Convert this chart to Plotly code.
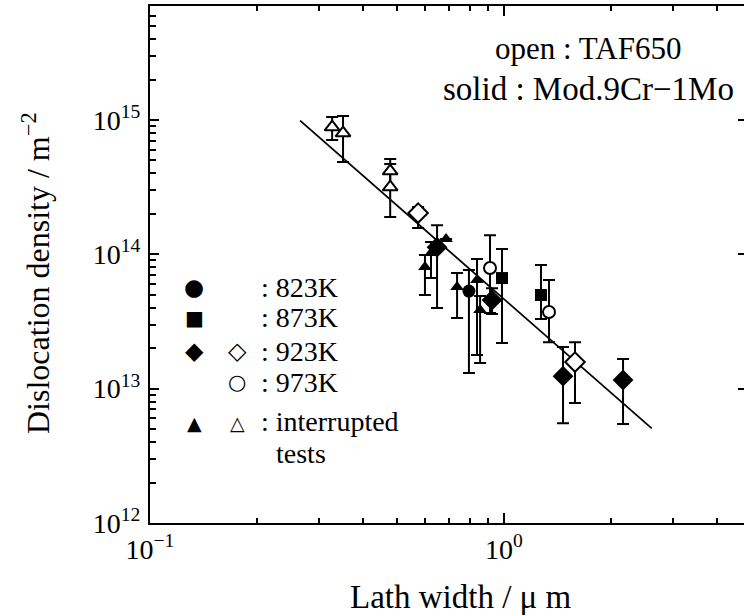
import plotly.graph_objects as go

# ---------------- data ----------------
# Solid symbols : Mod.9Cr-1Mo ; open symbols : TAF650
# each series: lath width (um), dislocation density (m^-2), error-bar top, error-bar bottom
s823_x = [0.796]
s823_y = [5.33e13]
s823_hi = [7.64e13]
s823_lo = [1.31e13]

s873_x = [0.987, 1.272]
s873_y = [6.66e13, 4.98e13]
s873_hi = [1.095e14, 8.32e13]
s873_lo = [2.19e13, 3.30e13]

s923_x = [0.925, 1.468, 2.169, 0.647]
s923_y = [4.57e13, 1.24e13, 1.16e13, 1.13e14]
s923_hi = [5.6e13, 2.04e13, 1.66e13, 1.13e14]
s923_lo = [3.6e13, 5.54e12, 5.45e12, 1.13e14]

o923_x = [0.572, 1.587]
o923_y = [2.03e14, 1.578e13]
o923_hi = [2.25e14, 2.22e13]
o923_lo = [1.57e14, 7.81e12]

o973_x = [0.913, 1.340]
o973_y = [7.91e13, 3.72e13]
o973_hi = [1.39e14, 6.44e13]
o973_lo = [3.66e13, 2.22e13]

sint_x = [0.598, 0.622, 0.647, 0.686, 0.737, 0.839, 0.856]
sint_y = [8.04e13, 1.023e14, 1.193e14, 1.30e14, 5.71e13, 6.44e13, 3.85e13]
sint_hi = [9.88e13, 1.235e14, 1.65e14, 1.30e14, 7.26e13, 9.23e13, 4.89e13]
sint_lo = [4.98e13, 6.66e13, 3.98e13, 1.30e14, 3.36e13, 1.78e13, 1.55e13]

oint_x = [0.327, 0.351, 0.477, 0.477]
oint_y = [8.87e14, 8.00e14, 4.17e14, 3.17e14]
oint_hi = [1.052e15, 1.071e15, 5.12e14, 4.70e14]
oint_lo = [7.10e14, 4.87e14, 3.01e14, 1.90e14]

fit_x = [0.2655, 2.614]
fit_y = [9.9e14, 5.06e12]

x_tickvals = [0.1, 1]
x_ticktext = ["10<sup>−1</sup>", "10<sup>0</sup>"]
x_minor = [0.2, 0.3, 0.4, 0.5, 0.6, 0.7, 0.8, 0.9, 2, 3, 4]
y_tickvals = [1e12, 1e13, 1e14, 1e15]
y_ticktext = ["10<sup>12</sup>", "10<sup>13</sup>", "10<sup>14</sup>", "10<sup>15</sup>"]
y_minor = [m * 10 ** e for e in (12, 13, 14, 15) for m in range(2, 10)]

legend_rows = [
    ("●", "", ": 823K"),
    ("■", "", ": 873K"),
    ("◆", "◇", ": 923K"),
    ("", "○", ": 973K"),
    ("▲", "△", ": interrupted"),
]

# ---------------- layout geometry (pixels) ----------------
W, H = 744, 616
L, R, T, B = 150, 744, 6, 523
SERIF = "Liberation Serif, Times New Roman, serif"
SYM_STYLE = {
    "●": (23, "DejaVu Sans", False),
    "■": (20, "DejaVu Sans", False),
    "◆": (24, "DejaVu Sans", False),
    "◇": (24, "DejaVu Sans", False),
    "○": (21, "DejaVu Sans", True),
    "▲": (19, "DejaVu Sans", False),
    "△": (19, "DejaVu Sans", False),
}


def px_x(p):
    return (p - L) / (R - L)


def px_y(p):
    return (B - p) / (B - T)


fig = go.Figure()

fig.add_trace(go.Scatter(x=fit_x, y=fit_y, mode="lines",
                         line=dict(color="black", width=1.8), hoverinfo="skip"))


def add_series(xs, ys, hi, lo, symbol, size, filled):
    plus = [h - y for h, y in zip(hi, ys)]
    minus = [y - l for y, l in zip(ys, lo)]
    fig.add_trace(go.Scatter(
        x=xs, y=ys, mode="markers",
        marker=dict(symbol=symbol, size=size,
                    color="black" if filled else "white",
                    line=dict(color="black", width=0 if filled else 2)),
        error_y=dict(type="data", array=plus, arrayminus=minus,
                     color="black", thickness=2, width=6, symmetric=False),
    ))


add_series(oint_x, oint_y, oint_hi, oint_lo, "triangle-up", 13, False)
add_series(sint_x, sint_y, sint_hi, sint_lo, "triangle-up", 12, True)
add_series(s873_x, s873_y, s873_hi, s873_lo, "square", 12, True)
add_series(s823_x, s823_y, s823_hi, s823_lo, "circle", 13, True)
add_series(s923_x, s923_y, s923_hi, s923_lo, "diamond", 16, True)
add_series(o923_x, o923_y, o923_hi, o923_lo, "diamond", 15, False)
add_series(o973_x, o973_y, o973_hi, o973_lo, "circle", 12, False)

# empty trace so that the right-hand tick axis is drawn
fig.add_trace(go.Scatter(x=[], y=[], yaxis="y2", hoverinfo="skip"))

ann = []
# top-right notes
ann.append(dict(x=px_x(493), y=px_y(48), text="open : TAF650", xanchor="left",
                yanchor="middle", font=dict(size=31)))
ann.append(dict(x=px_x(441), y=px_y(89), text="solid : Mod.9Cr−1Mo", xanchor="left",
                yanchor="middle", font=dict(size=33)))


def sym_ann(sym, xx, yy):
    size, fam, bold = SYM_STYLE[sym]
    txt = "<b>%s</b>" % sym if bold else sym
    return dict(x=px_x(xx), y=px_y(yy), text=txt, xanchor="center",
                yanchor="middle", font=dict(size=size, family=fam))


# legend block
rows_y = [287, 318, 351, 382, 421]
for (sfill, sopen, label), yy in zip(legend_rows, rows_y):
    if sfill:
        ann.append(sym_ann(sfill, 194, yy + (2 if sfill == "▲" else 0)))
    if sopen:
        ann.append(sym_ann(sopen, 237, yy + (2 if sopen == "△" else 0)))
    ann.append(dict(x=px_x(259), y=px_y(yy), text=label, xanchor="left",
                    yanchor="middle", font=dict(size=28)))
ann.append(dict(x=px_x(274), y=px_y(453), text="tests", xanchor="left",
                yanchor="middle", font=dict(size=28)))

# axis titles
ann.append(dict(x=px_x(461), y=px_y(597), text="Lath width / μ m", xanchor="center",
                yanchor="middle", font=dict(size=33)))
ann.append(dict(x=px_x(36), y=px_y(273), text="Dislocation density / m<sup>−2</sup>",
                xanchor="center", yanchor="middle", textangle=-90,
                font=dict(size=32)))

for a in ann:
    a.update(xref="paper", yref="paper", showarrow=False)
    a["font"].setdefault("family", SERIF)
    a["font"].setdefault("color", "black")

fig.update_layout(
    width=W, height=H,
    margin=dict(l=L, r=W - R, t=T, b=H - B, pad=0),
    paper_bgcolor="white", plot_bgcolor="white",
    showlegend=False,
    font=dict(family=SERIF, color="black"),
    annotations=ann,
    xaxis=dict(type="log", range=[-1, -1 + (R - L) / 354.0],
               tickvals=x_tickvals, ticktext=x_ticktext,
               ticks="inside", ticklen=10, tickwidth=1.5, tickcolor="black",
               minor=dict(ticks="inside", ticklen=5, tickwidth=1.5,
                          tickcolor="black", tickvals=x_minor, showgrid=False),
               showline=True, linewidth=2, linecolor="black", mirror="ticks",
               showgrid=False, zeroline=False,
               tickfont=dict(size=28, family=SERIF), ticklabelstandoff=0),
    yaxis=dict(type="log", range=[12, 15 + (120 - T) / 134.3],
               tickvals=y_tickvals, ticktext=y_ticktext,
               ticks="inside", ticklen=9, tickwidth=1.5, tickcolor="black",
               minor=dict(ticks="inside", ticklen=6, tickwidth=1.5,
                          tickcolor="black", tickvals=y_minor, showgrid=False),
               showline=True, linewidth=2, linecolor="black", mirror=False,
               showgrid=False, zeroline=False,
               tickfont=dict(size=28, family=SERIF), ticklabelstandoff=2),
    yaxis2=dict(type="log", range=[12, 15 + (120 - T) / 134.3], overlaying="y",
                side="right", tickvals=y_tickvals, showticklabels=False,
                ticks="inside", ticklen=6, tickwidth=1.5, tickcolor="black",
                showline=False, showgrid=False, zeroline=False),
)

fig.write_html("out.html")
